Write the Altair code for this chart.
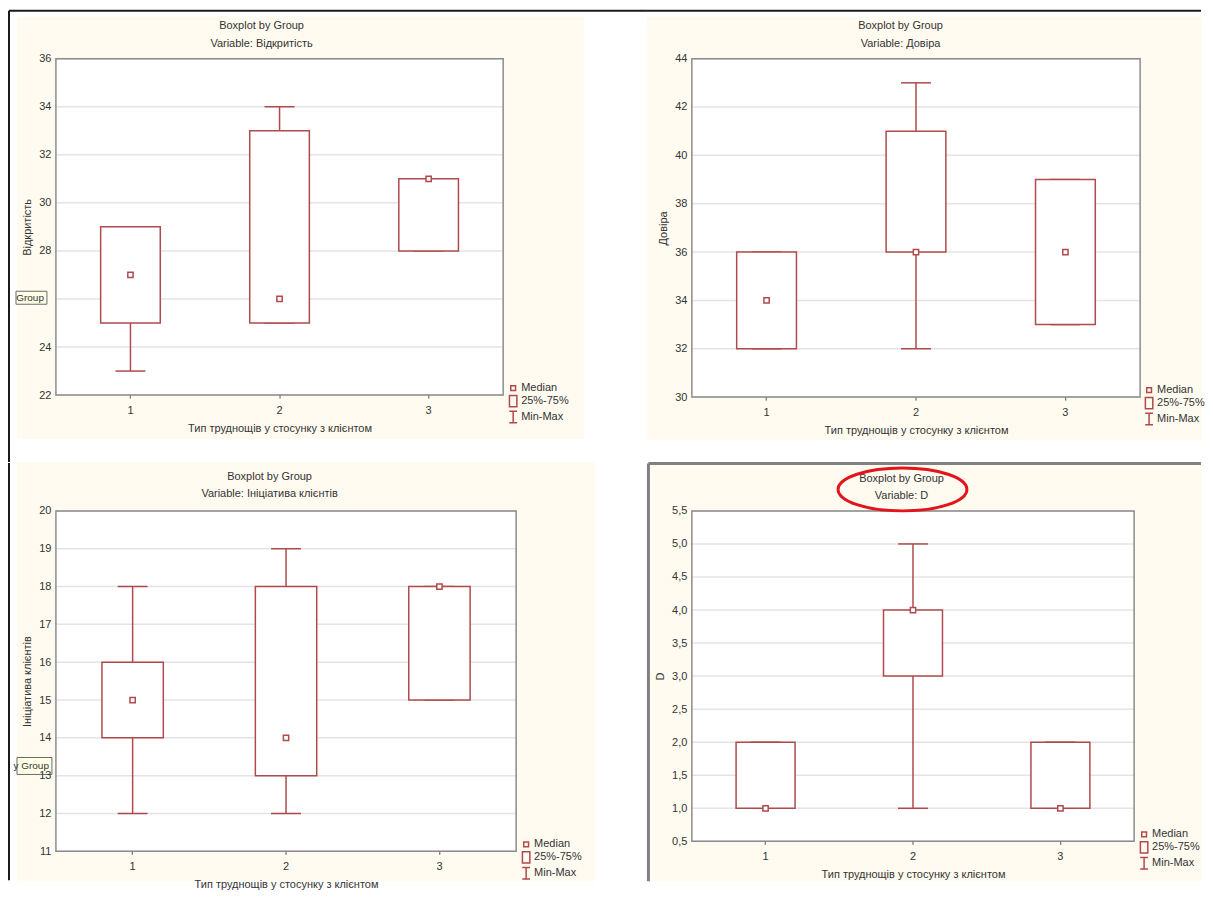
import altair as alt
import pandas as pd

FONT = "Liberation Sans"
TXT = "#333333"
BOX = "#b04a4c"
CREAM = "#fffbf0"
GRID = "#e4e4e4"
FRAME = "#8c8c8c"
RED = "#e3141c"

GROUPS = ["1", "2", "3"]
X_TITLE = "Тип труднощів у стосунку з клієнтом"
CHART_TITLE = "Boxplot by Group"
LEGEND_ITEMS = ["Median", "25%-75%", "Min-Max"]
LEGEND_PATHS = [
    "M-0.4,-0.4H0.4V0.4H-0.4Z",
    "M-0.62,-0.95H0.62V0.95H-0.62Z",
    "M-0.65,-0.95H0.65M0,-0.95V0.95M-0.65,0.95H0.65",
]

# Panel 1: Відкритість
V1_NAME = "Відкритість"
V1_MIN = [23, 25, 28]
V1_Q1 = [25, 25, 28]
V1_MED = [27, 26, 31]
V1_Q3 = [29, 33, 31]
V1_MAX = [29, 34, 31]
V1_TICKS = [22, 24, 26, 28, 30, 32, 34, 36]
V1_LABELS = [22, 24, 28, 30, 32, 34, 36]  # "26" is hidden under the tooltip

# Panel 2: Довіра
V2_NAME = "Довіра"
V2_MIN = [32, 32, 33]
V2_Q1 = [32, 36, 33]
V2_MED = [34, 36, 36]
V2_Q3 = [36, 41, 39]
V2_MAX = [36, 43, 39]
V2_TICKS = [30, 32, 34, 36, 38, 40, 42, 44]

# Panel 3: Ініціатива клієнтів
V3_NAME = "Ініціатива клієнтів"
V3_MIN = [12, 12, 15]
V3_Q1 = [14, 13, 15]
V3_MED = [15, 14, 18]
V3_Q3 = [16, 18, 18]
V3_MAX = [18, 19, 18]
V3_TICKS = [11, 12, 13, 14, 15, 16, 17, 18, 19, 20]

# Panel 4: D
V4_NAME = "D"
V4_MIN = [1, 1, 1]
V4_Q1 = [1, 3, 1]
V4_MED = [1, 4, 1]
V4_Q3 = [2, 4, 2]
V4_MAX = [2, 5, 2]
V4_TICKS = [0.5, 1.0, 1.5, 2.0, 2.5, 3.0, 3.5, 4.0, 4.5, 5.0, 5.5]

ONE = pd.DataFrame({"k": [0]})

ELLIPSE = ("M-1,0C-1,-0.184,-0.552,-0.333,0,-0.333C0.552,-0.333,1,-0.184,1,0"
           "C1,0.184,0.552,0.333,0,0.333C-0.552,0.333,-1,0.184,-1,0Z")


def deco_rect(x1, x2, y1, y2, **mk):
    return alt.Chart(ONE).mark_rect(**mk).encode(
        x=alt.value(x1), x2=alt.value(x2), y=alt.value(y1), y2=alt.value(y2))


def deco_line(x1, y1, x2, y2, color, sw):
    return alt.Chart(ONE).mark_rule(color=color, strokeWidth=sw).encode(
        x=alt.value(x1), x2=alt.value(x2), y=alt.value(y1), y2=alt.value(y2))


def deco_text(txt, x, y, size=11, align="center"):
    return alt.Chart(pd.DataFrame({"t": [txt]})).mark_text(
        font=FONT, fontSize=size, color=TXT, align=align, baseline="middle"
    ).encode(x=alt.value(x), y=alt.value(y), text="t:N")


def panel(name, mins, q1s, meds, q3s, maxs, ticks, labels, decimals,
          w, h, cream, lines, title_x, title_y=(-33, -15), legend_dx=3,
          tooltip=None, ellipse=None):
    df = pd.DataFrame({"group": GROUPS, "mn": mins, "q1": q1s,
                       "med": meds, "q3": q3s, "mx": maxs})
    yscale = alt.Scale(domain=[ticks[0], ticks[-1]], nice=False, zero=False)
    ykw = dict(values=labels, grid=False, domain=False, ticks=False,
               labelPadding=5, titlePadding=6, zindex=1, labelOverlap=False)
    if decimals:
        ykw["labelExpr"] = "replace(format(datum.value, '.1f'), '.', ',')"
    yaxis = alt.Axis(**ykw)
    xaxis = alt.Axis(labelAngle=0, grid=False, domain=False, ticks=True,
                     tickSize=3, tickColor="#555555", labelPadding=6,
                     titlePadding=7, zindex=1)

    def Y(f):
        return alt.Y(f + ":Q", scale=yscale, axis=yaxis, title=name)

    X = alt.X("group:N", sort=GROUPS,
              scale=alt.Scale(type="band", paddingInner=0, paddingOuter=0),
              axis=xaxis, title=X_TITLE)

    layers = [deco_rect(cream[0], cream[1], cream[2], cream[3], color=CREAM, opacity=1)]
    for ln in lines:
        layers.append(deco_line(*ln))
    layers.append(deco_rect(0, w, 0, h, color="white", opacity=1))

    grid = alt.Chart(pd.DataFrame({"v": ticks})).mark_rule(
        color=GRID, strokeWidth=1.5).encode(y=Y("v"))
    base = alt.Chart(df)
    whisk = base.mark_rule(color=BOX, strokeWidth=1.5).encode(x=X, y=Y("mn"), y2="mx")
    cap_lo = base.mark_tick(color=BOX, size=30, thickness=1.5, opacity=1).encode(x=X, y=Y("mn"))
    cap_hi = base.mark_tick(color=BOX, size=30, thickness=1.5, opacity=1).encode(x=X, y=Y("mx"))
    box = base.mark_bar(fill="white", stroke=BOX, strokeWidth=1.5, opacity=1,
                        width=alt.RelativeBandSize(0.4)).encode(x=X, y=Y("q1"), y2="q3")
    med = base.mark_point(shape="square", size=28, filled=True, fill="white",
                          stroke=BOX, strokeWidth=1.5, opacity=1).encode(x=X, y=Y("med"))
    frame = deco_rect(0, w, 0, h, filled=False, color=FRAME, strokeWidth=1.5)
    layers += [grid, whisk, cap_lo, cap_hi, box, med, frame]

    layers.append(deco_text(CHART_TITLE, title_x, title_y[0]))
    layers.append(deco_text("Variable: " + name, title_x, title_y[1]))

    if tooltip is not None:
        tx1, tx2, ty1, ty2, ttxt = tooltip
        layers.append(deco_rect(tx1, tx2, ty1, ty2, fill="#ffffe8", stroke="#6a6a6a",
                                strokeWidth=1, opacity=1))
        layers.append(deco_text(ttxt, tx2 - 3, (ty1 + ty2) / 2, size=10, align="right"))

    leg = alt.Chart(pd.DataFrame({"item": LEGEND_ITEMS})).mark_point(
        filled=False, color=BOX, strokeWidth=1.5, opacity=0
    ).encode(shape=alt.Shape(
        "item:N", title=None,
        scale=alt.Scale(domain=LEGEND_ITEMS, range=LEGEND_PATHS),
        legend=alt.Legend(orient="none", legendX=w + legend_dx, legendY=h - 14,
                          symbolSize=144, symbolStrokeWidth=1.5,
                          symbolStrokeColor=BOX, symbolOpacity=1,
                          labelOffset=1, rowPadding=-3.5, padding=0)))
    layers.append(leg)

    if ellipse is not None:
        ex, ey = ellipse
        layers.append(alt.Chart(ONE).mark_point(
            shape=ELLIPSE, size=16641, filled=False, color=RED,
            strokeWidth=3, opacity=1).encode(x=alt.value(ex), y=alt.value(ey)))

    return alt.layer(*layers).properties(width=w, height=h)


BLACK = "#1a1a1a"
GRAYF = "#808080"

# plot origins: column 1 at x=56, column 2 at x=693; row 1 at y=58, row 2 at y=511
p1 = panel(V1_NAME, V1_MIN, V1_Q1, V1_MED, V1_Q3, V1_MAX, V1_TICKS, V1_LABELS, False,
           448, 337, cream=(-39, 529, -42, 381),
           lines=[(-47, -48, -47, 404, BLACK, 2), (-47, -48, 592, -48, BLACK, 2)],
           title_x=206, tooltip=(-40, -9, 233, 246, "Group"))
p2 = panel(V2_NAME, V2_MIN, V2_Q1, V2_MED, V2_Q3, V2_MAX, V2_TICKS, V2_TICKS, False,
           449, 339, cream=(-45, 511, -42, 382),
           lines=[(-45, -48, 510, -48, BLACK, 2)],
           title_x=209, legend_dx=2)
p3 = panel(V3_NAME, V3_MIN, V3_Q1, V3_MED, V3_Q3, V3_MAX, V3_TICKS, V3_TICKS, False,
           461, 341, cream=(-39, 540, -49, 371),
           lines=[(-47, -48, -47, 370, BLACK, 2)],
           title_x=214, title_y=(-34, -17), tooltip=(-39, -4, 247, 264, "y Group"))
p4 = panel(V4_NAME, V4_MIN, V4_Q1, V4_MED, V4_Q3, V4_MAX, V4_TICKS, V4_TICKS, True,
           443, 331, cream=(-42, 511, -46, 371),
           lines=[(-43.5, -47.5, -43.5, 371, GRAYF, 3), (-43.5, -47.5, 510, -47.5, GRAYF, 3)],
           title_x=210, title_y=(-32, -15), ellipse=(211, -21.5))

chart = alt.concat(p1, p2, p3, p4, columns=2, spacing={"column": 176, "row": 114},
                   align="each", bounds="flush"
).resolve_scale(shape="independent").properties(
    padding={"left": 0, "top": 1, "right": 0, "bottom": 0}, background="white"
).configure_view(strokeWidth=0).configure_axis(
    labelFont=FONT, titleFont=FONT, labelFontSize=11, titleFontSize=11,
    titleFontWeight="normal", labelColor=TXT, titleColor=TXT
).configure_legend(labelFont=FONT, labelFontSize=11, labelColor=TXT)

chart.save("out.html", embed_options={"renderer": "svg", "actions": False})
